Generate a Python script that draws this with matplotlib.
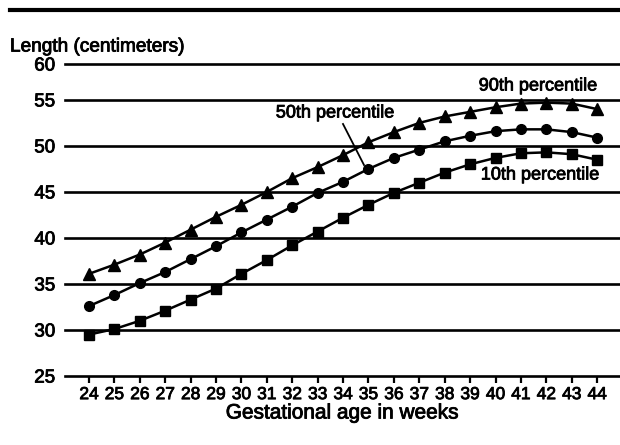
import matplotlib
matplotlib.use("Agg")
import matplotlib.pyplot as plt
import matplotlib.patheffects as pe

weeks = list(range(24, 45))
p90 = [36.1, 37.1, 38.2, 39.5, 40.9, 42.3, 43.6, 45.0, 46.5, 47.7, 49.0, 50.4,
       51.5, 52.5, 53.2, 53.7, 54.2, 54.6, 54.7, 54.6, 54.0]
p50 = [32.6, 33.8, 35.1, 36.3, 37.7, 39.1, 40.6, 42.0, 43.4, 44.9, 46.1, 47.5,
       48.7, 49.6, 50.5, 51.1, 51.6, 51.8, 51.8, 51.5, 50.9]
p10 = [29.5, 30.1, 31.0, 32.1, 33.3, 34.5, 36.1, 37.6, 39.2, 40.7, 42.2, 43.6,
       44.9, 46.0, 47.1, 48.0, 48.7, 49.2, 49.3, 49.1, 48.5]
ytick_labels = ["25", "30", "35", "40", "45", "50", "55", "60"]
xtick_labels = [str(w) for w in weeks]

plt.rcParams['font.family'] = ['Liberation Sans', 'DejaVu Sans']
thick = [pe.withStroke(linewidth=0.6, foreground='black')]

fig = plt.figure(figsize=(6.2, 4.45), dpi=100)
ax = fig.add_axes([65/620, (445-376)/445, 1 - 65/620, (376-64)/445])

ax.set_xlim(23.055, 44.9)
ax.set_ylim(25, 58.9)

yt = [25, 30, 35, 40, 45, 50, 55, 58.9]
for y in yt:
    ax.axhline(y, color='black', lw=1.9, zorder=1, clip_on=False)

ax.plot(weeks, p90, color='black', lw=1.8, marker='^', ms=8, zorder=3)
ax.plot(weeks, p50, color='black', lw=1.8, marker='o', ms=7, zorder=3)
ax.plot(weeks, p10, color='black', lw=1.8, marker='s', ms=6.5, zorder=3)

for s in ax.spines.values():
    s.set_visible(False)

ax.set_yticks(yt)
ax.set_yticklabels(ytick_labels, fontsize=13.5)
ax.tick_params(axis='y', length=0, pad=7)
ax.set_xticks(weeks)
ax.set_xticklabels(xtick_labels, fontsize=12.5)
ax.tick_params(axis='x', length=5, width=1.6, direction='out', pad=3)
for t in ax.get_xticklabels() + ax.get_yticklabels():
    t.set_path_effects(thick)

ax.set_xlabel("Gestational age in weeks", fontsize=15, labelpad=1,
              path_effects=thick)

fig.text(10/620, 1 - 47/445, "Length (centimeters)", fontsize=13.7,
         va='center', ha='left', path_effects=thick)

fig.text(538/620, 1 - 86/445, "90th percentile", fontsize=13, ha='center',
         va='center', path_effects=thick)
fig.text(335/620, 1 - 113/445, "50th percentile", fontsize=13, ha='center',
         va='center', path_effects=thick)
fig.text(540/620, 1 - 175/445, "10th percentile", fontsize=13, ha='center',
         va='center', path_effects=thick)

# leader line for the 50th percentile label
fig.add_artist(plt.Line2D([343/620, 364/620], [1 - 124/445, 1 - 165/445],
                          color='black', lw=1.3, transform=fig.transFigure))

# top rule
fig.add_artist(plt.Line2D([10/620, 1.0], [1 - 10/445, 1 - 10/445],
                          color='black', lw=3, transform=fig.transFigure))

fig.savefig("out.png", dpi=100)
